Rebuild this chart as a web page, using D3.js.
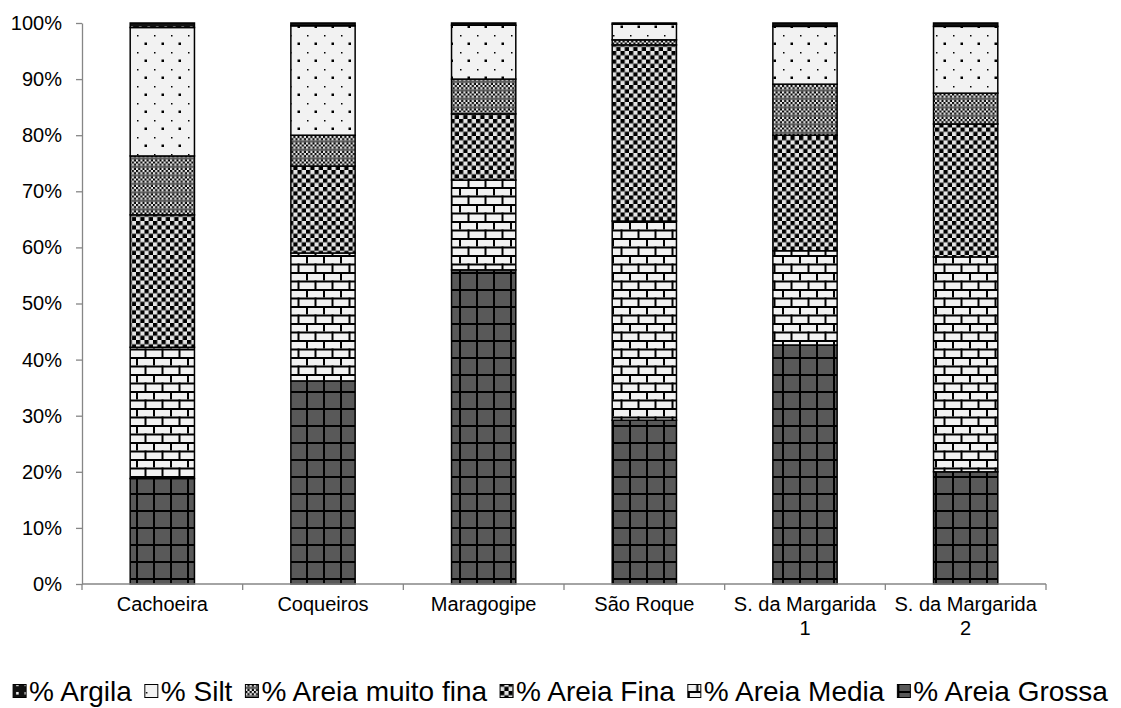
<!DOCTYPE html>
<html>
<head>
<meta charset="utf-8">
<script src="https://cdn.jsdelivr.net/npm/d3@7"></script>
<style>
  html, body { margin: 0; padding: 0; background: #fff; }
  svg { display: block; font-family: Arial, "Liberation Sans", sans-serif; }
</style>
</head>
<body>
<svg id="chart" width="1121" height="708"></svg>
<script>
// Sampling sites
const categories = ["Cachoeira", "Coqueiros", "Maragogipe", "São Roque", "S. da Margarida 1", "S. da Margarida 2"];

// Grain-size fractions (%) per site, stacked bottom to top
const areiaGrossa    = [18.8, 36.2, 56.0, 29.2, 42.6, 20.0];
const areiaMedia     = [23.4, 22.8, 16.0, 35.5, 16.8, 38.3];
const areiaFina      = [23.6, 15.5, 11.8, 31.4, 20.6, 23.7];
const areiaMuitoFina = [10.5,  5.5,  6.2,  0.9,  9.1,  5.5];
const silt           = [22.9, 19.5,  9.6,  2.8, 10.3, 11.9];
const argila         = [ 0.8,  0.5,  0.4,  0.2,  0.6,  0.6];

// Series names, bottom to top of each bar
const seriesNames = ["% Areia Grossa", "% Areia Media", "% Areia Fina", "% Areia muito fina", "% Silt", "% Argila"];
const seriesValues = [areiaGrossa, areiaMedia, areiaFina, areiaMuitoFina, silt, argila];
const seriesPatterns = ["grossa", "media", "fina", "muitofina", "silt", "argila"];

// Legend order, left to right
const legendOrder = ["% Argila", "% Silt", "% Areia muito fina", "% Areia Fina", "% Areia Media", "% Areia Grossa"];

// Y-axis tick values
const yTicks = [0, 10, 20, 30, 40, 50, 60, 70, 80, 90, 100];

const svg = d3.select("#chart");
const margin = { left: 82, right: 1121 - 1046, top: 23, bottom: 708 - 584 };
const width = 1121, height = 708;
const axisColor = "#868686";
const fontSize = 20;
const legendFontSize = 28;

// ---- fill patterns ----
const defs = svg.append("defs");
const U = 17; // tile size

function pattern(id, w, h) {
  return defs.append("pattern").attr("id", id)
    .attr("patternUnits", "userSpaceOnUse")
    .attr("width", w).attr("height", h);
}

// large grid on dark grey
{
  const p = pattern("grossa", U, U);
  p.append("rect").attr("width", U).attr("height", U).attr("fill", "#595959");
  p.append("rect").attr("x", 0).attr("y", 0).attr("width", U).attr("height", 2).attr("fill", "#000");
  p.append("rect").attr("x", 0).attr("y", 0).attr("width", 2).attr("height", U).attr("fill", "#000");
}
// horizontal bricks
{
  const p = pattern("media", U, U);
  p.append("rect").attr("width", U).attr("height", U).attr("fill", "#f2f2f2");
  p.append("rect").attr("x", 0).attr("y", 0).attr("width", U).attr("height", 2).attr("fill", "#000");
  p.append("rect").attr("x", 0).attr("y", U / 2).attr("width", U).attr("height", 2).attr("fill", "#000");
  p.append("rect").attr("x", 0).attr("y", 0).attr("width", 2).attr("height", U / 2).attr("fill", "#000");
  p.append("rect").attr("x", U / 2).attr("y", U / 2).attr("width", 2).attr("height", U / 2).attr("fill", "#000");
}
// small checkerboard
{
  const s = U / 4;
  const p = pattern("fina", 2 * s, 2 * s);
  p.append("rect").attr("width", 2 * s).attr("height", 2 * s).attr("fill", "#e4e4e4");
  p.append("rect").attr("x", 0).attr("y", 0).attr("width", s).attr("height", s).attr("fill", "#000");
  p.append("rect").attr("x", s).attr("y", s).attr("width", s).attr("height", s).attr("fill", "#000");
}
// fine checkerboard
{
  const s = U / 8;
  const p = pattern("muitofina", 4 * s, 4 * s);
  p.append("rect").attr("width", 4 * s).attr("height", 4 * s).attr("fill", "#f0f0f0");
  p.append("rect").attr("x", 0).attr("y", 0).attr("width", s).attr("height", s).attr("fill", "#000");
  p.append("rect").attr("x", 2 * s).attr("y", 0).attr("width", s).attr("height", s).attr("fill", "#000");
  p.append("rect").attr("x", s).attr("y", s).attr("width", s).attr("height", s).attr("fill", "#000");
  p.append("rect").attr("x", 3 * s).attr("y", s).attr("width", s).attr("height", s).attr("fill", "#000");
  p.append("rect").attr("x", 0).attr("y", 2 * s).attr("width", 4 * s).attr("height", s).attr("fill", "#555");
  p.append("rect").attr("x", s).attr("y", 3 * s).attr("width", s).attr("height", s).attr("fill", "#000");
  p.append("rect").attr("x", 3 * s).attr("y", 3 * s).attr("width", s).attr("height", s).attr("fill", "#000");
}
// dotted light grey
{
  const p = pattern("silt", U, U);
  p.append("rect").attr("width", U).attr("height", U).attr("fill", "#f2f2f2");
  p.append("rect").attr("x", 1).attr("y", 1).attr("width", 1.5).attr("height", 1.5).attr("fill", "#000");
  p.append("rect").attr("x", U / 2).attr("y", U / 2).attr("width", 2.5).attr("height", 2.5).attr("fill", "#000");
}
// dark with light dots
{
  const p = pattern("argila", U / 2, U / 2);
  p.append("rect").attr("width", U / 2).attr("height", U / 2).attr("fill", "#111");
  p.append("rect").attr("x", 3).attr("y", 1).attr("width", 2.5).attr("height", 2.5).attr("fill", "#fff");
}

// ---- scales ----
const x = d3.scaleBand()
  .domain(categories)
  .range([margin.left, width - margin.right])
  .paddingInner(0.6).paddingOuter(0.3);

const y = d3.scaleLinear()
  .domain([0, 100])
  .range([height - margin.bottom, margin.top]);

// ---- stacked data ----
const table = categories.map((c, i) => {
  const row = { category: c };
  seriesNames.forEach((s, k) => { row[s] = seriesValues[k][i]; });
  return row;
});
const stacked = d3.stack().keys(seriesNames)(table);

// ---- bars ----
const layers = svg.append("g").selectAll("g")
  .data(stacked).join("g")
  .attr("fill", (d, k) => `url(#${seriesPatterns[k]})`);

layers.selectAll("rect")
  .data(d => d).join("rect")
  .attr("x", d => x(d.data.category))
  .attr("y", d => y(d[1]))
  .attr("width", x.bandwidth())
  .attr("height", d => y(d[0]) - y(d[1]))
  .attr("stroke", "#000")
  .attr("stroke-width", 1.5);

// ---- y axis ----
const yAxis = svg.append("g")
  .attr("transform", `translate(${margin.left},0)`)
  .call(d3.axisLeft(y).tickValues(yTicks).tickFormat(d => d + "%").tickSize(6).tickSizeOuter(0));
yAxis.select(".domain").attr("stroke", axisColor).attr("stroke-width", 1.3);
yAxis.selectAll(".tick line").attr("stroke", axisColor).attr("stroke-width", 1.3);
yAxis.selectAll(".tick text")
  .attr("x", -20)
  .attr("fill", "#000")
  .style("font-size", fontSize + "px")
  .style("font-family", "Arial, 'Liberation Sans', sans-serif");

// ---- x axis ----
const x0 = margin.left, x1 = width - margin.right, yBase = y(0);
const xg = svg.append("g");
xg.append("line")
  .attr("x1", x0).attr("x2", x1).attr("y1", yBase).attr("y2", yBase)
  .attr("stroke", axisColor).attr("stroke-width", 1.3);
const boundaries = d3.range(categories.length + 1).map(i => x0 + i * (x1 - x0) / categories.length);
xg.selectAll("line.tk").data(boundaries).join("line")
  .attr("class", "tk")
  .attr("x1", d => d).attr("x2", d => d)
  .attr("y1", yBase).attr("y2", yBase + 6)
  .attr("stroke", axisColor).attr("stroke-width", 1.3);

// category labels, wrapped when wider than a band
const bandW = (x1 - x0) / categories.length;
const labels = xg.selectAll("text.cat").data(categories).join("text")
  .attr("class", "cat")
  .attr("text-anchor", "middle")
  .style("font-size", fontSize + "px")
  .attr("fill", "#000")
  .attr("transform", d => `translate(${x(d) + x.bandwidth() / 2},${yBase + 27})`);
labels.each(function (d) {
  const t = d3.select(this);
  t.text(d);
  if (this.getComputedTextLength() > bandW - 10) {
    const cut = d.lastIndexOf(" ");
    t.text(null);
    t.append("tspan").attr("x", 0).attr("dy", 0).text(d.slice(0, cut));
    t.append("tspan").attr("x", 0).attr("dy", "1.2em").text(d.slice(cut + 1));
  }
});

// ---- legend ----
const legend = svg.append("g");
const legY = 691;
const box = 13, gapBox = 3, gapItem = 13;
let cursor = 0;
legendOrder.forEach(name => {
  const g = legend.append("g");
  const k = seriesNames.indexOf(name);
  g.append("rect")
    .attr("x", 0).attr("y", -box / 2).attr("width", box).attr("height", box)
    .attr("fill", `url(#${seriesPatterns[k]})`)
    .attr("stroke", "#000").attr("stroke-width", 1);
  const t = g.append("text")
    .attr("x", box + gapBox).attr("y", 0).attr("dy", "0.35em")
    .style("font-size", legendFontSize + "px").attr("fill", "#000")
    .text(name);
  const w = box + gapBox + t.node().getComputedTextLength();
  g.attr("transform", `translate(${cursor},${legY})`);
  cursor += w + gapItem;
});
const totalW = cursor - gapItem;
legend.attr("transform", `translate(${(width - totalW) / 2},0)`);
</script>
</body>
</html>
